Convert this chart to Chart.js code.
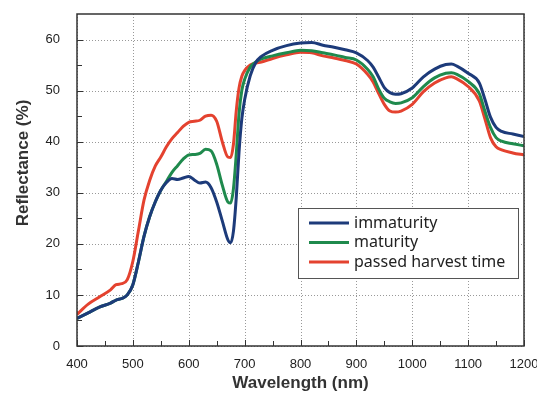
<!DOCTYPE html>
<html>
<head>
<meta charset="utf-8">
<script src="https://cdn.jsdelivr.net/npm/chart.js@4"></script>
<style>
  html, body { margin: 0; padding: 0; background: #fff; }
  #wrap { width: 537px; height: 394px; }
</style>
</head>
<body>
<div id="wrap"><canvas id="myChart" width="537" height="394"></canvas></div>
<script>
// wavelengths (nm) shared by every series
const wavelengths = [400, 420, 440, 460, 470, 480, 490, 500, 510, 520, 530, 540, 550, 560, 570, 580, 590, 600, 610, 620, 630, 640, 650, 660, 670, 675, 680, 685, 690, 695, 700, 710, 720, 730, 750, 775, 800, 820, 840, 860, 880, 900, 920, 930, 940, 950, 960, 970, 980, 1000, 1020, 1040, 1060, 1070, 1080, 1100, 1120, 1130, 1140, 1150, 1160, 1180, 1200];

const immaturity = [5.4, 6.5, 7.6, 8.4, 9.0, 9.3, 10.0, 12.0, 16.5, 21.5, 25.3, 28.2, 30.5, 32.0, 32.8, 32.6, 32.9, 33.2, 32.5, 31.9, 32.1, 31.0, 28.2, 24.5, 20.8, 20.2, 22.5, 29.0, 38.0, 44.5, 48.2, 52.9, 55.5, 56.7, 57.9, 58.8, 59.3, 59.4, 58.9, 58.5, 58.0, 57.4, 55.9, 54.6, 52.6, 50.6, 49.6, 49.3, 49.4, 50.5, 52.7, 54.2, 55.1, 55.2, 54.8, 53.4, 51.5, 48.3, 44.8, 42.8, 42.0, 41.5, 41.0];

const maturity = [5.4, 6.5, 7.6, 8.4, 9.0, 9.3, 10.0, 12.0, 16.5, 21.5, 25.3, 28.2, 30.5, 32.2, 34.0, 35.3, 36.6, 37.4, 37.5, 37.7, 38.5, 38.2, 35.6, 31.5, 28.2, 28.0, 30.8, 37.5, 45.5, 50.0, 52.2, 54.6, 55.6, 56.2, 56.8, 57.4, 57.9, 57.8, 57.4, 57.0, 56.5, 56.0, 54.2, 52.7, 50.3, 48.5, 47.8, 47.5, 47.6, 48.6, 50.8, 52.5, 53.4, 53.5, 53.2, 51.8, 49.4, 46.0, 42.8, 40.8, 40.1, 39.6, 39.2];

const passedHarvest = [6.2, 8.2, 9.6, 11.0, 12.0, 12.2, 13.0, 16.6, 22.6, 28.6, 32.4, 35.2, 37.0, 39.0, 40.6, 41.8, 43.0, 43.8, 44.0, 44.2, 45.0, 45.2, 44.0, 40.0, 37.0, 36.9, 39.5, 46.0, 50.5, 52.8, 53.9, 55.0, 55.4, 55.6, 56.3, 57.0, 57.5, 57.4, 56.8, 56.4, 55.9, 55.2, 53.2, 51.7, 49.4, 47.3, 46.0, 45.8, 46.0, 47.3, 49.8, 51.5, 52.5, 52.7, 52.3, 50.8, 48.0, 44.5, 40.8, 39.0, 38.4, 37.8, 37.4];

const seriesLabels = ["immaturity", "maturity", "passed harvest time"];
const seriesColors = ["#1d3b7a", "#1f8a4d", "#e4422f"];

const xTicks = [400, 500, 600, 700, 800, 900, 1000, 1100, 1200];
const yTicks = [0, 10, 20, 30, 40, 50, 60];

function toPoints(vals) {
  return vals.map((v, i) => ({ x: wavelengths[i], y: v }));
}

// dotted grid behind the lines
const dottedGrid = {
  id: 'dottedGrid',
  beforeDatasetsDraw(chart) {
    const ctx = chart.ctx;
    const a = chart.chartArea;
    const xs = chart.scales.x, ys = chart.scales.y;
    ctx.save();
    ctx.strokeStyle = '#999';
    ctx.lineWidth = 1;
    ctx.setLineDash([1, 2]);
    ctx.beginPath();
    xTicks.forEach(v => {
      const px = Math.round(xs.getPixelForValue(v)) + 0.5;
      ctx.moveTo(px, a.top);
      ctx.lineTo(px, a.bottom);
    });
    yTicks.forEach(v => {
      const py = Math.round(ys.getPixelForValue(v)) + 0.5;
      ctx.moveTo(a.left, py);
      ctx.lineTo(a.right, py);
    });
    ctx.stroke();
    ctx.restore();
  }
};

// frame, inward tick marks, legend box and y title
const extras = {
  id: 'extras',
  afterDraw(chart) {
    const ctx = chart.ctx;
    const a = chart.chartArea;
    const xs = chart.scales.x, ys = chart.scales.y;
    ctx.save();
    ctx.strokeStyle = '#333';
    ctx.lineWidth = 1.5;
    ctx.strokeRect(a.left, a.top, a.right - a.left, a.bottom - a.top);

    ctx.lineWidth = 1;
    ctx.beginPath();
    for (let v = 400; v <= 1200; v += 50) {
      const px = Math.round(xs.getPixelForValue(v)) + 0.5;
      const len = v % 100 === 0 ? 6 : 5;
      ctx.moveTo(px, a.bottom);
      ctx.lineTo(px, a.bottom - len);
    }
    for (let v = 0; v <= 60; v += 5) {
      const py = Math.round(ys.getPixelForValue(v)) + 0.5;
      const len = v % 10 === 0 ? 6 : 5;
      ctx.moveTo(a.left, py);
      ctx.lineTo(a.left + len, py);
    }
    ctx.stroke();

    // legend
    const bx = 298, by = 208, bw = 220, bh = 70;
    ctx.fillStyle = '#fff';
    ctx.fillRect(bx, by, bw, bh);
    ctx.strokeStyle = '#555';
    ctx.lineWidth = 1;
    ctx.strokeRect(bx + 0.5, by + 0.5, bw, bh);
    ctx.font = '16px "Noto Sans", sans-serif';
    ctx.textBaseline = 'middle';
    chart.data.datasets.forEach((ds, i) => {
      const cy = by + 15 + i * 19.5;
      ctx.strokeStyle = ds.borderColor;
      ctx.lineWidth = 3;
      ctx.beginPath();
      ctx.moveTo(309, cy);
      ctx.lineTo(349, cy);
      ctx.stroke();
      ctx.fillStyle = '#222';
      ctx.fillText(ds.label, 354, cy);
    });

    // y axis title
    ctx.translate(23, 163);
    ctx.rotate(-Math.PI / 2);
    ctx.font = 'bold 17px "Liberation Sans", Arial, sans-serif';
    ctx.fillStyle = '#333';
    ctx.textAlign = 'center';
    ctx.textBaseline = 'middle';
    ctx.fillText('Reflectance (%)', 0, 0);
    ctx.restore();
  }
};

new Chart(document.getElementById('myChart'), {
  type: 'line',
  data: {
    datasets: [immaturity, maturity, passedHarvest].map((vals, i) => ({
      label: seriesLabels[i],
      data: toPoints(vals),
      borderColor: seriesColors[i],
      backgroundColor: seriesColors[i],
      borderWidth: 3,
      pointRadius: 0,
      tension: 0.4,
      cubicInterpolationMode: 'monotone',
      fill: false
    }))
  },
  options: {
    responsive: false,
    animation: false,
    events: [],
    layout: { padding: { left: 0, right: 13, top: 14, bottom: 0 } },
    plugins: { legend: { display: false }, tooltip: { enabled: false } },
    scales: {
      x: {
        type: 'linear',
        min: 400,
        max: 1200,
        afterBuildTicks: s => { s.ticks = xTicks.map(v => ({ value: v })); },
        afterFit: s => { s.height = 48; s.paddingLeft = 0; s.paddingRight = 0; },
        ticks: {
          color: '#222',
          font: { size: 13, family: '"Liberation Sans", Arial' },
          padding: 3,
          maxRotation: 0,
          callback: v => String(v)
        },
        grid: { display: false },
        border: { display: false },
        title: { display: true, text: 'Wavelength (nm)', color: '#333', font: { size: 17, weight: 'bold', family: '"Liberation Sans", Arial' }, padding: { top: 0, bottom: 0 } }
      },
      y: {
        min: 0,
        max: 65,
        afterBuildTicks: s => { s.ticks = yTicks.map(v => ({ value: v })); },
        afterFit: s => { s.width = 77; s.paddingTop = 0; s.paddingBottom = 0; },
        ticks: { color: '#222', font: { size: 13, family: '"Liberation Sans", Arial' }, padding: 9 },
        grid: { display: false },
        border: { display: false }
      }
    }
  },
  plugins: [dottedGrid, extras]
});
</script>
</body>
</html>
